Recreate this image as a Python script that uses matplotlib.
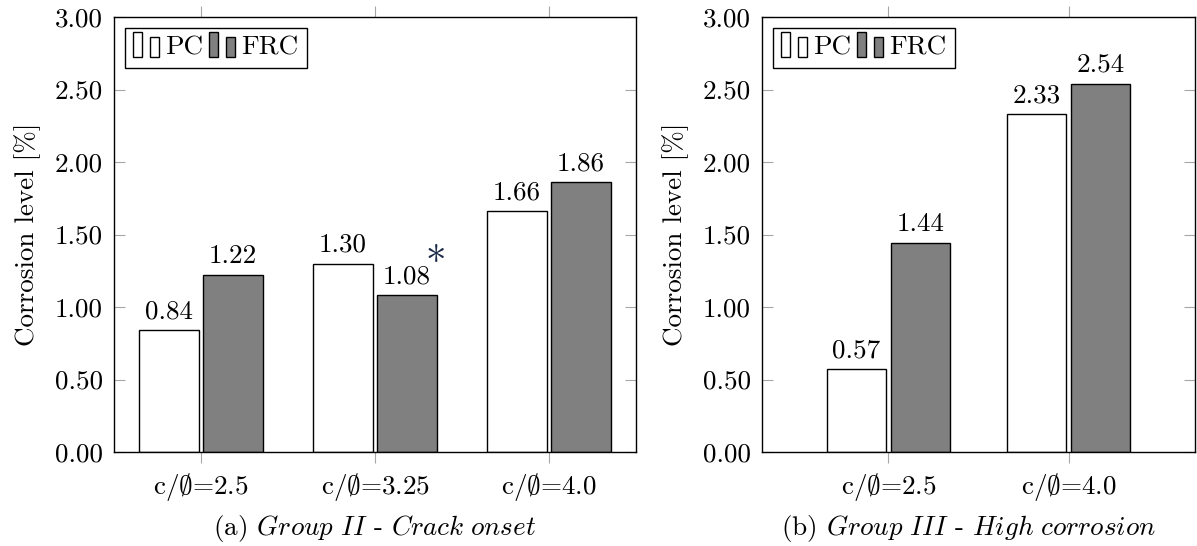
import matplotlib
matplotlib.use("Agg")
import numpy as np
from matplotlib import pyplot as plt
from matplotlib.patches import Rectangle
from matplotlib.legend_handler import HandlerBase

plt.rcParams['font.family'] = ['cmr10', 'DejaVu Serif']
plt.rcParams['mathtext.fontset'] = 'cm'
plt.rcParams['axes.unicode_minus'] = False
plt.rcParams['axes.formatter.use_mathtext'] = True

# Data
labels_a = ['c/$\\emptyset$=2.5', 'c/$\\emptyset$=3.25', 'c/$\\emptyset$=4.0']
pc_a = [0.84, 1.30, 1.66]
frc_a = [1.22, 1.08, 1.86]

labels_b = ['c/$\\emptyset$=2.5', 'c/$\\emptyset$=4.0']
pc_b = [0.57, 2.33]
frc_b = [1.44, 2.54]

caption_a = '(a) $\\mathit{Group\\ II}$ - $\\mathit{Crack\\ onset}$'
caption_b = '(b) $\\mathit{Group\\ III}$ - $\\mathit{High\\ corrosion}$'

FS = 19.5
DPI = 100
W, H = 1197, 546
TICKGRAY = '0.65'


class TwoBars(HandlerBase):
    def __init__(self, color):
        super().__init__()
        self.color = color

    def create_artists(self, legend, orig, xd, yd, w, h, fontsize, trans):
        bw = w * 0.34
        r1 = Rectangle((-xd, -yd - 0.1 * h), bw, h * 1.3, facecolor=self.color,
                       edgecolor='black', lw=1.0, transform=trans)
        r2 = Rectangle((-xd + w - bw, -yd - 0.1 * h), bw, h * 1.05, facecolor=self.color,
                       edgecolor='black', lw=1.0, transform=trans)
        return [r1, r2]


def panel(ax, labels, pc, frc, xlim, unit_px, star=False):
    x = np.arange(len(labels))
    bw = 59.5 / unit_px
    off = 32.0 / unit_px
    b1 = ax.bar(x - off, pc, bw, color='white', edgecolor='black', lw=1.0, zorder=3)
    b2 = ax.bar(x + off, frc, bw, color='0.5', edgecolor='black', lw=1.0, zorder=3)
    for bars, vals in ((b1, pc), (b2, frc)):
        for r, v in zip(bars, vals):
            ax.annotate('%.2f' % v, (r.get_x() + r.get_width() / 2, v),
                        xytext=(0, 5), textcoords='offset points',
                        ha='center', va='bottom', fontsize=FS)
    if star:
        r = b2[1]
        ax.annotate('$\\ast$', (r.get_x() + r.get_width(), frc[1]),
                    xytext=(-1, 18), textcoords='offset points',
                    ha='center', va='bottom', fontsize=FS + 10, color='#1c2b4a')
    ax.set_xlim(*xlim)
    ax.set_ylim(0, 3)
    ax.set_yticks(np.arange(0, 3.01, 0.5))
    ax.set_yticklabels(['%.2f' % t for t in np.arange(0, 3.01, 0.5)])
    ax.set_xticks(x)
    ax.set_xticklabels(labels)
    ax.tick_params(axis='y', direction='in', left=True, right=True, length=8,
                   color=TICKGRAY, width=0.8, labelsize=FS, pad=8)
    ax.tick_params(axis='x', direction='out', bottom=True, top=True, length=8,
                   color=TICKGRAY, width=0.8, labelsize=FS, pad=6)
    for s in ax.spines.values():
        s.set_linewidth(1.0)
        s.set_zorder(5)
    ax.set_ylabel('Corrosion level [%]', fontsize=FS, labelpad=10)
    h1 = Rectangle((0, 0), 1, 1)
    h2 = Rectangle((0, 1), 1, 1)
    ax.legend([h1, h2], ['PC', 'FRC'], ncol=2, loc='upper left',
              handler_map={h1: TwoBars('white'), h2: TwoBars('0.5')},
              fontsize=FS, frameon=True, fancybox=False, edgecolor='black',
              framealpha=1, borderaxespad=0.4, borderpad=0.3,
              handlelength=0.95, handletextpad=0.25, columnspacing=0.2,
              handleheight=0.7)


fig = plt.figure(figsize=(W / DPI, H / DPI), dpi=DPI)
ax1 = fig.add_axes([114 / W, (H - 452) / H, 522 / W, 435 / H])
ax2 = fig.add_axes([762 / W, (H - 452) / H, 433 / W, 435 / H])

panel(ax1, labels_a, pc_a, frc_a, (-0.5, 2.5), 522 / 3.0, star=True)
panel(ax2, labels_b, pc_b, frc_b, (-0.7, 1.7), 433 / 2.4)

fig.text(375 / W, 1 - 528 / H, caption_a, ha='center', va='center', fontsize=FS)
fig.text(968 / W, 1 - 528 / H, caption_b, ha='center', va='center', fontsize=FS)

fig.savefig('out.png', dpi=DPI)
